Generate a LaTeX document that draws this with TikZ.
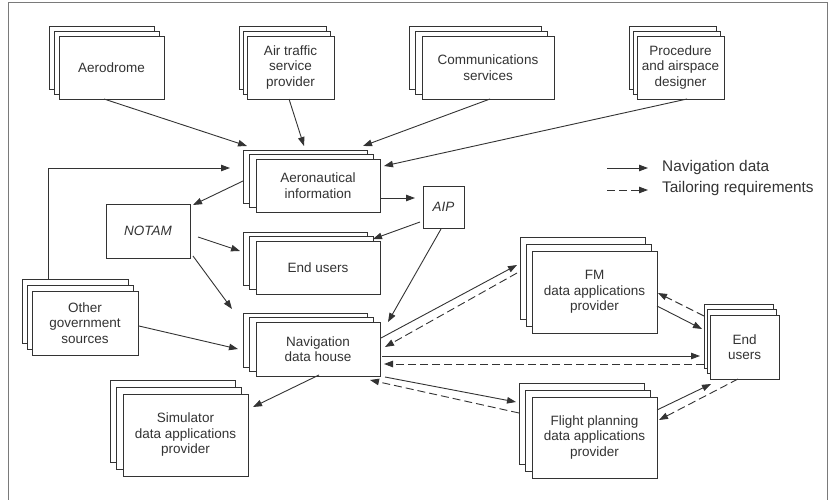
\documentclass[tikz,border=0pt]{standalone}
\usepackage{fontspec}
\setmainfont{Liberation Sans}
\usetikzlibrary{arrows.meta,calc}
\definecolor{ink}{HTML}{333333}
\definecolor{framegray}{HTML}{7a7a7a}

\tikzset{
  layer/.style={draw=ink, fill=white, line width=0.9pt, inner sep=0pt, outer sep=0pt,
    anchor=north west, align=center, text=ink, font=\fontsize{13.5}{15.5}\selectfont},
  nav/.style={draw=ink, line width=0.9pt, -{Triangle[length=9pt,width=6.5pt]}},
  tailor/.style={nav, dash pattern=on 8pt off 4pt},
  legendtext/.style={anchor=west, inner sep=0pt, text=ink, font=\fontsize{15.4}{17}\selectfont},
}

% three stacked sheets: name, x, y (front top-left), width, height, dx, dy, text
\newcommand\stackedbox[8]{%
  \node[layer, minimum width=#4pt, minimum height=#5pt] (#1-3) at ({#2-2*#6},{#3-2*#7}) {};
  \node[layer, minimum width=#4pt, minimum height=#5pt] (#1-2) at ({#2-#6},{#3-#7}) {};
  \node[layer, minimum width=#4pt, minimum height=#5pt] (#1) at (#2,#3) {#8};
}

\begin{document}
\begin{tikzpicture}[x=1pt,y=-1pt]
\useasboundingbox (0,0) rectangle (829,500);

% outer frame
\draw[framegray, line width=1pt] (8,500) -- (8,3) -- (827,3) -- (827,500);

% sources
\stackedbox{aero}{59}{36}{105}{63}{5}{5}{Aerodrome}
\stackedbox{ats}{247}{36}{87}{63}{4}{5}{Air traffic\\service\\provider}
\stackedbox{comm}{422}{36}{132}{63}{6.5}{5}{Communications\\services}
\stackedbox{proc}{637}{36}{87}{63}{4}{5}{Procedure\\and airspace\\designer}

% publication chain
\stackedbox{info}{256}{159}{124}{53}{6.5}{4.5}{Aeronautical\\information}
\stackedbox{endu}{256}{241}{124}{53}{6.5}{4.5}{End users}
\stackedbox{other}{32}{291}{106}{64}{5}{6}{Other\\government\\sources}
\stackedbox{nav}{256}{322}{124}{54}{6.5}{4.5}{Navigation\\data house}
\stackedbox{sim}{123}{394}{125}{82}{6.5}{7}{Simulator\\data applications\\provider}
\stackedbox{fm}{532}{251}{125}{82}{6}{7}{FM\\data applications\\provider}
\stackedbox{fpl}{532}{397}{125}{81}{6.5}{7}{Flight planning\\data applications\\provider}
\stackedbox{endr}{710}{315}{69}{64}{3}{5.5}{End\\users}

\node[layer, minimum width=84pt, minimum height=54pt] (notam) at (106,204) {\itshape NOTAM};
\node[layer, minimum width=41pt, minimum height=42pt] (aip) at (423,186) {\itshape AIP};

% navigation data flows
\draw[nav] ($(aero.south west)+(45,0)$) -- ($(info-3.north west)+(4,-4)$);
\draw[nav] ($(ats.south west)+(42,0)$) -- ($(info-3.north west)+(61,-4)$);
\draw[nav] ($(comm.south west)+(68,0)$) -- ($(info-3.north west)+(120,-4)$);
\draw[nav] ($(proc.south west)+(50,0)$) -- ($(info.north east)+(4,7)$);
\draw[nav] ($(other-3.north west)+(26,0)$) |- ($(info-3.north west)+(-13,18)$);
\draw[nav] ($(info-3.north west)+(0,31)$) -- ($(notam.north east)+(3,1)$);
\draw[nav] ($(info.east)+(0,12.5)$) -- ($(aip.north west)+(-8,12)$);
\draw[nav] ($(aip.south west)+(-3,-6)$) -- ($(endu-3.north east)+(6,7)$);
\draw[nav] ($(notam.east)+(8,6)$) -- ($(endu-3.north west)+(-3,19)$);
\draw[nav] ($(notam.south east)+(3,-2)$) -- ($(nav-3.north west)+(-11,-4)$);
\draw[nav] ($(other.east)+(1,3)$) -- ($(nav-3.north west)+(-5,36)$);
\draw[nav] ($(aip.south)+(-2.5,1)$) -- ($(nav.north east)+(8,0)$);
\draw[nav] ($(nav.south)+(1,-1)$) -- ($(sim.north east)+(5,13)$);
\draw[nav] ($(nav.north east)+(1,16)$) -- ($(fm-3.north west)+(-3,28)$);
\draw[nav] ($(nav.east)+(2,7)$) -- ($(endr-3.north west)+(-4,52)$);
\draw[nav] ($(nav.south east)+(5,1)$) -- ($(fpl-3.north west)+(-3,19)$);
\draw[nav] ($(fm.east)+(0,14)$) -- ($(endr-3.north west)+(-2,25)$);
\draw[nav] ($(fpl.north east)+(0,13)$) -- ($(endr.south west)+(1,5)$);

% tailoring requirements
\draw[tailor] ($(fm-3.north west)+(-3,36)$) -- ($(nav.north east)+(5,25)$);
\draw[tailor] ($(endr-3.north west)+(0,60)$) -- ($(nav.east)+(4,15)$);
\draw[tailor] ($(fpl-3.north west)+(0,30)$) -- ($(nav.south east)+(-10,4)$);
\draw[tailor] ($(endr-3.north west)+(0,12)$) -- ($(fm.east)+(1,1)$);
\draw[tailor] ($(endr.south)+(-6.5,0)$) -- ($(fpl.north east)+(2,23)$);

% legend
\coordinate (ka) at (607,168);
\coordinate (kb) at (648,168);
\coordinate (kc) at (607,190);
\coordinate (kd) at (648,190);
\draw[nav] (ka) -- (kb);
\draw[tailor] (kc) -- (kd);
\node[legendtext] (kt1) at (662,168) {Navigation data};
\node[legendtext] (kt2) at (662,189) {Tailoring requirements};
\end{tikzpicture}
\end{document}
